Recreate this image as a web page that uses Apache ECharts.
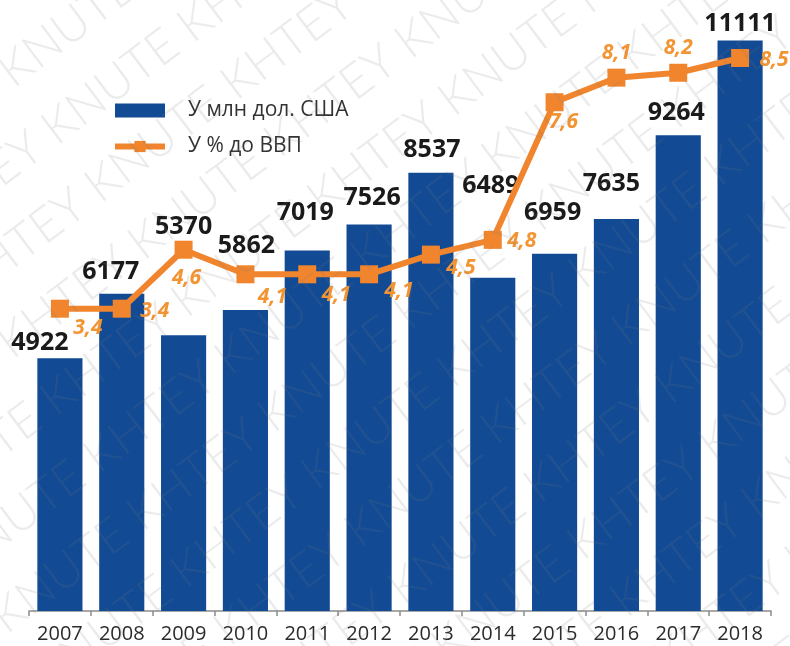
<!DOCTYPE html>
<html>
<head>
<meta charset="utf-8">
<script src="https://cdn.jsdelivr.net/npm/echarts@6/dist/echarts.min.js"></script>
<style>
html,body{margin:0;padding:0;background:#fff;}
#chart{width:790px;height:646px;}
</style>
</head>
<body>
<div id="chart"></div>
<script>
// ---- data ----
const years = ['2007','2008','2009','2010','2011','2012','2013','2014','2015','2016','2017','2018'];
const usdMln = [4922, 6177, 5370, 5862, 7019, 7526, 8537, 6489, 6959, 7635, 9264, 11111];
const pctGdp = [3.4, 3.4, 4.6, 4.1, 4.1, 4.1, 4.5, 4.8, 7.6, 8.1, 8.2, 8.5];
const seriesNames = ['У млн дол. США', 'У % до ВВП'];

// label placement (as in the reference, manually placed)
const barLabelOffsets = [[-20,-3],[-11,-9],[0,-96],[1,-52],[-2,-25],[3,-14],[1,-10],[-2,-79],[-2,-28],[-5,-23],[-2,-10],[0,-4]];
const lineLabelOffsets = [[28,19],[33,2],[3,28],[27,23],[29,21],[30,17],[30,13],[29,1],[9,20],[0,-25],[0,-25],[34,2]];

const BLUE = '#124B94';
const ORANGE = '#F0852D';

const barData = usdMln.map((v, i) => ({ value: v, label: { offset: barLabelOffsets[i] } }));
const lineData = pctGdp.map((v, i) => ({ value: v, label: { offset: lineLabelOffsets[i] } }));

// watermark
const wm = [];
const theta = 37 * Math.PI / 180;
const px = Math.sin(theta), py = Math.cos(theta);
const wmText = 'KHTEY KNUTE KHTEY KNUTE KHTEY KNUTE KHTEY KNUTE';
for (let k = -9; k <= 9; k++) {
  wm.push({
    type: 'text', silent: true, z: 100,
    x: 395 + k * 72 * px, y: 323 + k * 72 * py,
    rotation: theta,
    style: { text: wmText, font: '300 48px Lato', fill: 'rgba(120,120,120,0.15)', align: 'center', verticalAlign: 'middle' }
  });
}

const chart = echarts.init(document.getElementById('chart'), null, { renderer: 'canvas' });
chart.setOption({
  animation: false,
  backgroundColor: '#fff',
  textStyle: { fontFamily: 'Open Sans' },
  grid: { left: 29, right: 19, top: 0, bottom: 35, containLabel: false },
  legend: {
    orient: 'vertical', left: 107, top: 95, itemWidth: 50, itemHeight: 14, itemGap: 15,
    textStyle: { fontFamily: 'Open Sans', fontSize: 21, color: '#333', padding: [0, 0, 0, 18] },
    data: [
      { name: seriesNames[0], icon: 'rect' },
      { name: seriesNames[1], lineStyle: { width: 6, color: ORANGE }, itemStyle: { color: ORANGE } }
    ]
  },
  xAxis: {
    type: 'category', data: years, boundaryGap: true,
    axisLine: { lineStyle: { color: '#8c8c8c', width: 1.5 } },
    axisTick: { show: true, length: 5, alignWithLabel: false, lineStyle: { color: '#8c8c8c', width: 1.5 } },
    axisLabel: { fontFamily: 'Open Sans', fontSize: 20, color: '#2b2b2b', margin: 13 }
  },
  yAxis: [
    { type: 'value', min: 0, max: 11900, show: false, splitLine: { show: false } },
    { type: 'value', min: -2.75, max: 9.68, show: false, splitLine: { show: false } }
  ],
  series: [
    {
      name: seriesNames[0], type: 'bar', yAxisIndex: 0, data: barData,
      barCategoryGap: '27%',
      itemStyle: { color: BLUE },
      label: { show: true, position: 'top', distance: 0, fontFamily: 'Open Sans', fontWeight: 'bold', fontSize: 25, color: '#1a1a1a' },
      z: 2
    },
    {
      name: seriesNames[1], type: 'line', yAxisIndex: 1, data: lineData,
      symbol: 'rect', symbolSize: 18,
      lineStyle: { color: ORANGE, width: 6 },
      itemStyle: { color: ORANGE },
      label: { show: true, position: 'inside', fontFamily: 'Open Sans', fontWeight: 'bold', fontStyle: 'italic', fontSize: 21, color: '#F39433',
        formatter: p => String(p.value).replace('.', ',') },
      z: 3
    }
  ],
  graphic: wm
});
</script>
</body>
</html>
